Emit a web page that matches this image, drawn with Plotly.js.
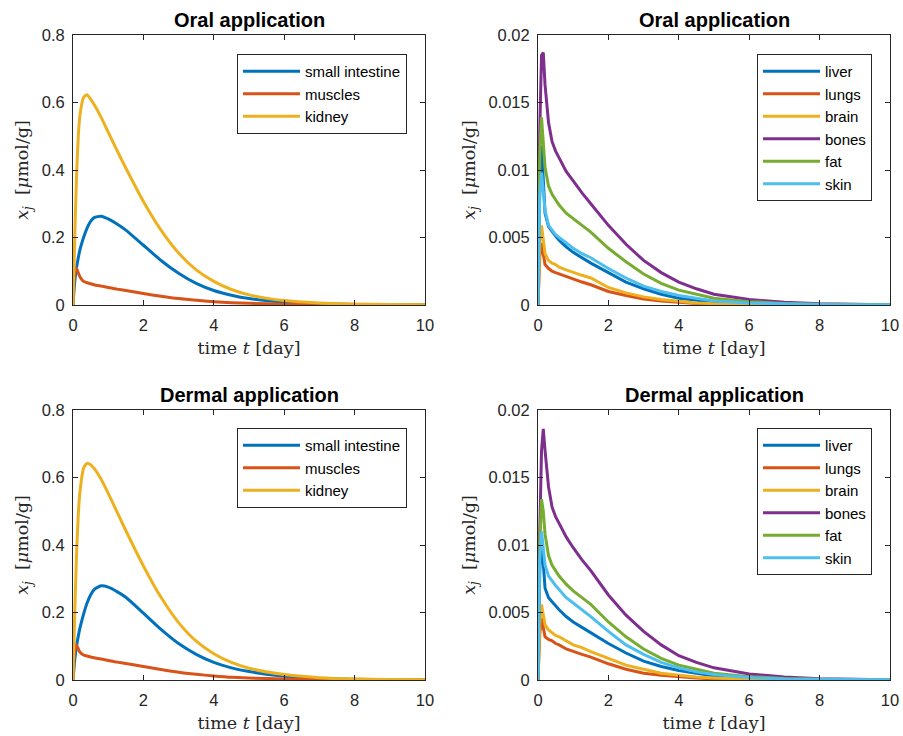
<!DOCTYPE html>
<html>
<head>
<meta charset="utf-8">
<script src="https://cdn.plot.ly/plotly-3.0.1.min.js"></script>
<style>html,body{margin:0;padding:0;background:#fff;}#plot{width:903px;height:736px;}</style>
</head>
<body>
<div id="plot"></div>
<script>
// time grid [day]
const time = [0, 0.05, 0.1, 0.15, 0.2, 0.3, 0.4, 0.5, 0.6, 0.8, 1, 1.25, 1.5, 2, 2.5, 3, 3.5, 4, 4.5, 5, 6, 7, 8, 9, 10];

// Oral application - left panel (µmol/g)
const oralSmallIntestine = [0, 0.07, 0.11, 0.14, 0.165, 0.2, 0.228, 0.248, 0.259, 0.263, 0.255, 0.24, 0.222, 0.177, 0.132, 0.094, 0.064, 0.043, 0.029, 0.019, 0.008, 0.0033, 0.0013, 0.0005, 0.0002];
const oralMuscles = [0, 0.1, 0.108, 0.095, 0.083, 0.07, 0.066, 0.063, 0.06, 0.056, 0.052, 0.047, 0.043, 0.034, 0.026, 0.019, 0.014, 0.01, 0.007, 0.005, 0.0025, 0.0012, 0.0006, 0.0003, 0.0001];
const oralKidney = [0, 0.2, 0.38, 0.5, 0.565, 0.615, 0.623, 0.61, 0.594, 0.556, 0.512, 0.458, 0.406, 0.307, 0.222, 0.154, 0.104, 0.07, 0.046, 0.03, 0.013, 0.006, 0.003, 0.0015, 0.0008];

// Oral application - right panel
const oralLiver = [0, 0.009, 0.0118, 0.009, 0.0068, 0.0058, 0.0054, 0.0051, 0.0048, 0.0043, 0.0039, 0.0035, 0.0031, 0.0024, 0.0017, 0.0012, 0.0008, 0.0005, 0.00035, 0.00022, 0.0001, 0.00005, 0.00002, 0.00001, 0.000005];
const oralLungs = [0, 0.0035, 0.0046, 0.0036, 0.003, 0.0027, 0.0025, 0.0024, 0.0023, 0.0021, 0.0019, 0.0017, 0.0015, 0.001, 0.0007, 0.00045, 0.0003, 0.0002, 0.00012, 0.00008, 0.00003, 0.00001, 0.000005, 0.000002, 0.000001];
const oralBrain = [0, 0.0045, 0.0059, 0.0047, 0.0038, 0.0033, 0.0031, 0.003, 0.0028, 0.0026, 0.0024, 0.0022, 0.002, 0.0013, 0.0009, 0.0006, 0.0004, 0.00025, 0.00015, 0.0001, 0.00004, 0.00002, 0.00001, 0.000005, 0.000002];
const oralBones = [0, 0.013, 0.0185, 0.0187, 0.0163, 0.0135, 0.0121, 0.0114, 0.0109, 0.0099, 0.0092, 0.0083, 0.0075, 0.0059, 0.0045, 0.0033, 0.0024, 0.0017, 0.0012, 0.0008, 0.0004, 0.0002, 0.0001, 0.00005, 0.00002];
const oralFat = [0, 0.011, 0.0139, 0.012, 0.0102, 0.0088, 0.0082, 0.0078, 0.0074, 0.0068, 0.0064, 0.0059, 0.0054, 0.0042, 0.0032, 0.0023, 0.0016, 0.0011, 0.0008, 0.0005, 0.00025, 0.00012, 0.00006, 0.00003, 0.00001];
const oralSkin = [0, 0.008, 0.0098, 0.0085, 0.007, 0.0059, 0.0055, 0.0052, 0.005, 0.0046, 0.0042, 0.0038, 0.0035, 0.0027, 0.002, 0.0014, 0.001, 0.0007, 0.0005, 0.0003, 0.00015, 0.00007, 0.00003, 0.00002, 0.00001];

// Dermal application - left panel
const dermSmallIntestine = [0, 0.06, 0.1, 0.13, 0.155, 0.195, 0.228, 0.252, 0.268, 0.279, 0.275, 0.262, 0.245, 0.198, 0.15, 0.108, 0.076, 0.052, 0.036, 0.025, 0.011, 0.0045, 0.002, 0.0008, 0.0003];
const dermMuscles = [0, 0.09, 0.104, 0.092, 0.082, 0.074, 0.071, 0.068, 0.066, 0.062, 0.058, 0.053, 0.049, 0.04, 0.031, 0.023, 0.017, 0.012, 0.008, 0.006, 0.003, 0.0015, 0.0007, 0.0003, 0.0001];
const dermKidney = [0, 0.2, 0.37, 0.49, 0.56, 0.627, 0.642, 0.638, 0.627, 0.595, 0.553, 0.498, 0.443, 0.338, 0.245, 0.17, 0.115, 0.078, 0.052, 0.035, 0.016, 0.007, 0.003, 0.0015, 0.0007];

// Dermal application - right panel
const dermLiver = [0, 0.008, 0.0105, 0.0083, 0.0068, 0.0061, 0.0058, 0.0055, 0.0052, 0.0047, 0.0043, 0.0039, 0.0035, 0.0027, 0.002, 0.0014, 0.001, 0.0007, 0.0005, 0.0003, 0.00013, 0.00006, 0.00003, 0.00001, 0.000005];
const dermLungs = [0, 0.0034, 0.0046, 0.0038, 0.0032, 0.003, 0.0029, 0.0027, 0.0026, 0.0023, 0.0021, 0.0019, 0.0017, 0.0012, 0.0008, 0.0005, 0.00035, 0.00022, 0.00014, 0.00009, 0.00004, 0.00002, 0.00001, 0.000005, 0.000002];
const dermBrain = [0, 0.0042, 0.0056, 0.0048, 0.0041, 0.0037, 0.0035, 0.0033, 0.0032, 0.0029, 0.0026, 0.0024, 0.0021, 0.0016, 0.0011, 0.0008, 0.0005, 0.00035, 0.00022, 0.00015, 0.00006, 0.00003, 0.00001, 0.000005, 0.000002];
const dermBones = [0, 0.011, 0.017, 0.0186, 0.017, 0.0143, 0.0128, 0.0121, 0.0116, 0.0106, 0.0098, 0.0089, 0.0081, 0.0063, 0.0048, 0.0036, 0.0026, 0.0018, 0.0013, 0.0009, 0.00045, 0.00022, 0.0001, 0.00005, 0.00002];
const dermFat = [0, 0.01, 0.0134, 0.0125, 0.0108, 0.0092, 0.0085, 0.0081, 0.0077, 0.0071, 0.0066, 0.0061, 0.0056, 0.0043, 0.0032, 0.0023, 0.0016, 0.0011, 0.0008, 0.0005, 0.00025, 0.00012, 0.00006, 0.00003, 0.00001];
const dermSkin = [0, 0.009, 0.011, 0.0096, 0.0085, 0.0077, 0.0073, 0.007, 0.0067, 0.0061, 0.0057, 0.0052, 0.0047, 0.0036, 0.0026, 0.0019, 0.0013, 0.0009, 0.0006, 0.0004, 0.00018, 0.00008, 0.00004, 0.00002, 0.00001];

const leftNames = ['small intestine', 'muscles', 'kidney'];
const rightNames = ['liver', 'lungs', 'brain', 'bones', 'fat', 'skin'];
const panelTitles = ['Oral application', 'Oral application', 'Dermal application', 'Dermal application'];
const xTicks = [0, 2, 4, 6, 8, 10];
const yTicksLeft = [0, 0.2, 0.4, 0.6, 0.8];
const yTickTextLeft = ['0', '0.2', '0.4', '0.6', '0.8'];
const yTicksRight = [0, 0.005, 0.01, 0.015, 0.02];
const yTickTextRight = ['0', '0.005', '0.01', '0.015', '0.02'];

const colors = ['#0072BD', '#D95319', '#EDB120', '#7E2F8E', '#77AC30', '#4DBEEE'];

const panels = [
  {xa: 'x', ya: 'y', leg: 'legend', names: leftNames, series: [oralSmallIntestine, oralMuscles, oralKidney], smooth: true},
  {xa: 'x2', ya: 'y2', leg: 'legend2', names: rightNames, series: [oralLiver, oralLungs, oralBrain, oralBones, oralFat, oralSkin], smooth: false},
  {xa: 'x3', ya: 'y3', leg: 'legend3', names: leftNames, series: [dermSmallIntestine, dermMuscles, dermKidney], smooth: true},
  {xa: 'x4', ya: 'y4', leg: 'legend4', names: rightNames, series: [dermLiver, dermLungs, dermBrain, dermBones, dermFat, dermSkin], smooth: false}
];

const traces = [];
panels.forEach(p => {
  p.series.forEach((s, i) => {
    traces.push({
      type: 'scatter', mode: 'lines', x: time, y: s, name: p.names[i],
      xaxis: p.xa, yaxis: p.ya, legend: p.leg,
      line: {color: colors[i], width: 3, shape: p.smooth ? 'spline' : 'linear', smoothing: 0.6},
      hoverinfo: 'x+y+name'
    });
  });
});

const tickFont = {family: 'Liberation Sans, Arial, sans-serif', size: 16.5, color: '#262626'};
const serif = {family: 'DejaVu Serif, Liberation Serif, serif', size: 17.5, color: '#262626'};

function xAxis(domain, anchor) {
  return {
    domain: domain, anchor: anchor, range: [0, 10], tickvals: xTicks,
    ticks: 'inside', ticklen: 5, tickcolor: '#262626', mirror: 'ticks',
    showline: true, linecolor: '#262626', linewidth: 1, showgrid: false, zeroline: false,
    tickfont: tickFont, automargin: false, ticklabelstandoff: 5,
    title: {text: 'time <i>t</i> [day]', font: serif, standoff: 8}
  };
}
function yAxis(domain, anchor, right) {
  return {
    domain: domain, anchor: anchor, range: right ? [0, 0.02] : [0, 0.8],
    tickvals: right ? yTicksRight : yTicksLeft,
    ticktext: right ? yTickTextRight : yTickTextLeft,
    ticks: 'inside', ticklen: 5, tickcolor: '#262626', mirror: 'ticks',
    showline: true, linecolor: '#262626', linewidth: 1, showgrid: false, zeroline: false,
    tickfont: tickFont, automargin: false, ticklabelstandoff: 4,
    title: {text: '<i>x<sub>j</sub></i>  [<i>μ</i>mol/g]', font: serif, standoff: 8}
  };
}

const W = 903, H = 736;
const xL = [73 / W, 425 / W], xR = [538 / W, 890 / W];
const yT = [1 - 305 / H, 1 - 35 / H], yB = [1 - 680 / H, 1 - 410 / H];

function legend(xr, ytop) {
  return {
    x: xr, y: ytop, xanchor: 'right', yanchor: 'top',
    bgcolor: '#ffffff', bordercolor: '#262626', borderwidth: 1,
    font: {family: 'Liberation Sans, Arial, sans-serif', size: 15, color: '#000'},
    itemwidth: 57, tracegroupgap: 0
  };
}

const titleFont = {family: 'Liberation Sans, Arial, sans-serif', size: 20, color: '#000', weight: 'bold'};
const annotations = [
  {x: (xL[0] + xL[1]) / 2, y: 1 - 20 / H, text: '<b>' + panelTitles[0] + '</b>'},
  {x: (xR[0] + xR[1]) / 2, y: 1 - 20 / H, text: '<b>' + panelTitles[1] + '</b>'},
  {x: (xL[0] + xL[1]) / 2, y: 1 - 395 / H, text: '<b>' + panelTitles[2] + '</b>'},
  {x: (xR[0] + xR[1]) / 2, y: 1 - 395 / H, text: '<b>' + panelTitles[3] + '</b>'}
].map(a => Object.assign(a, {xref: 'paper', yref: 'paper', showarrow: false, xanchor: 'center', yanchor: 'middle', font: titleFont}));

const layout = {
  width: W, height: H,
  margin: {l: 0, r: 0, t: 0, b: 0},
  paper_bgcolor: '#ffffff', plot_bgcolor: '#ffffff',
  showlegend: true,
  xaxis: xAxis(xL, 'y'), yaxis: yAxis(yT, 'x', false),
  xaxis2: xAxis(xR, 'y2'), yaxis2: yAxis(yT, 'x2', true),
  xaxis3: xAxis(xL, 'y3'), yaxis3: yAxis(yB, 'x3', false),
  xaxis4: xAxis(xR, 'y4'), yaxis4: yAxis(yB, 'x4', true),
  legend: legend(407 / W, 1 - 54 / H),
  legend2: legend(872 / W, 1 - 54 / H),
  legend3: legend(407 / W, 1 - 428 / H),
  legend4: legend(872 / W, 1 - 428 / H),
  annotations: annotations
};

Plotly.newPlot('plot', traces, layout, {displayModeBar: false});
</script>
</body>
</html>
